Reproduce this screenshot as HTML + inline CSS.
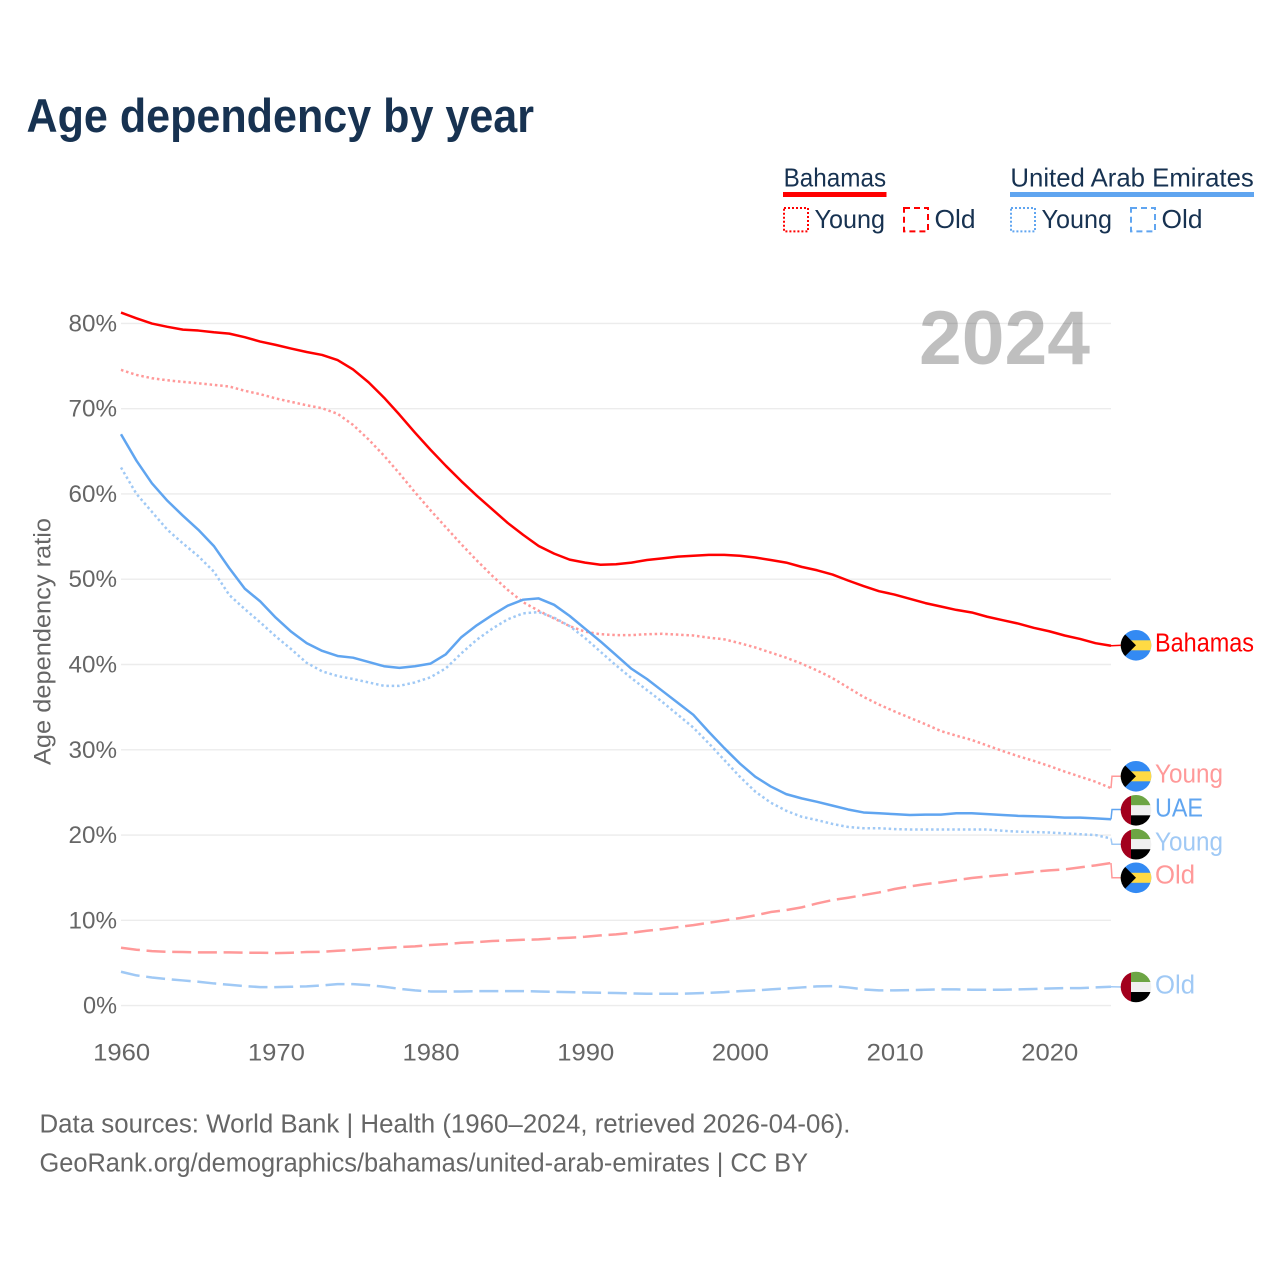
<!DOCTYPE html>
<html lang="en">
<head>
<meta charset="utf-8">
<title>Age dependency by year</title>
<style>
html,body{margin:0;padding:0;background:#fff;}
svg{display:block;font-family:"Liberation Sans",sans-serif;}
</style>
</head>
<body>
<svg id="chart" xmlns="http://www.w3.org/2000/svg" width="1280" height="1280" viewBox="0 0 1280 1280">
  <defs>
    <clipPath id="flag-clip"><circle cx="0" cy="0" r="15.3"/></clipPath>
  </defs>
  <rect width="1280" height="1280" fill="#fff"/>
  <text x="26.5" y="132" font-size="47" font-weight="700" fill="#173251" textLength="507.5" lengthAdjust="spacingAndGlyphs">Age dependency by year</text>

  <g>
    <text x="783.6" y="186.3" font-size="26" fill="#173251" textLength="102.5" lengthAdjust="spacingAndGlyphs">Bahamas</text>
    <rect x="783" y="192" width="103.5" height="5" fill="#ff0000"/>
    <rect x="784" y="208" width="24" height="23.4" fill="none" stroke="#ff0000" stroke-width="2" stroke-dasharray="2 2"/>
    <text x="814.5" y="228.2" font-size="26" fill="#173251" textLength="70.5" lengthAdjust="spacingAndGlyphs">Young</text>
    <rect x="904" y="208" width="24" height="23.4" fill="none" stroke="#ff0000" stroke-width="2" stroke-dasharray="6 4"/>
    <text x="934.5" y="228.2" font-size="26" fill="#173251" textLength="41" lengthAdjust="spacingAndGlyphs">Old</text>
  </g>
  <g>
    <text x="1010.4" y="186.3" font-size="26" fill="#173251" textLength="243.4" lengthAdjust="spacingAndGlyphs">United Arab Emirates</text>
    <rect x="1010" y="192" width="244" height="5" fill="#60a5f0"/>
    <rect x="1011" y="208" width="24" height="23.4" fill="none" stroke="#60a5f0" stroke-width="2" stroke-dasharray="2 2"/>
    <text x="1041.5" y="228.2" font-size="26" fill="#173251" textLength="70.5" lengthAdjust="spacingAndGlyphs">Young</text>
    <rect x="1131" y="208" width="24" height="23.4" fill="none" stroke="#60a5f0" stroke-width="2" stroke-dasharray="6 4"/>
    <text x="1161.5" y="228.2" font-size="26" fill="#173251" textLength="41" lengthAdjust="spacingAndGlyphs">Old</text>
  </g>

  <g id="grid"></g>
  <g id="y-ticks"></g>
  <g id="x-ticks"></g>
  <text transform="translate(50.5,765) rotate(-90)" font-size="24" fill="#666666" textLength="247" lengthAdjust="spacingAndGlyphs">Age dependency ratio</text>
  <text x="919" y="364" font-size="76" font-weight="700" fill="#000" fill-opacity="0.25" textLength="171" lengthAdjust="spacingAndGlyphs">2024</text>

  <g id="series"></g>
  <g id="connectors"></g>

  <g transform="translate(1136,645.3)" clip-path="url(#flag-clip)">
    <rect x="-16" y="-16" width="32" height="32" fill="#338af3"/><rect x="-16" y="-5" width="32" height="10" fill="#ffda44"/><path d="M-16-16L0 0L-16 16Z" fill="#000"/>
  </g>
  <g transform="translate(1136,776.3)" clip-path="url(#flag-clip)">
    <rect x="-16" y="-16" width="32" height="32" fill="#338af3"/><rect x="-16" y="-5" width="32" height="10" fill="#ffda44"/><path d="M-16-16L0 0L-16 16Z" fill="#000"/>
  </g>
  <g transform="translate(1136,810.3)" clip-path="url(#flag-clip)">
    <rect x="-5" y="-16" width="21" height="11" fill="#6da544"/><rect x="-5" y="-5" width="21" height="10" fill="#f0f0f0"/><rect x="-5" y="5" width="21" height="11" fill="#000"/><rect x="-16" y="-16" width="11" height="32" fill="#a2001d"/>
  </g>
  <g transform="translate(1136,844.2)" clip-path="url(#flag-clip)">
    <rect x="-5" y="-16" width="21" height="11" fill="#6da544"/><rect x="-5" y="-5" width="21" height="10" fill="#f0f0f0"/><rect x="-5" y="5" width="21" height="11" fill="#000"/><rect x="-16" y="-16" width="11" height="32" fill="#a2001d"/>
  </g>
  <g transform="translate(1136,877.8)" clip-path="url(#flag-clip)">
    <rect x="-16" y="-16" width="32" height="32" fill="#338af3"/><rect x="-16" y="-5" width="32" height="10" fill="#ffda44"/><path d="M-16-16L0 0L-16 16Z" fill="#000"/>
  </g>
  <g transform="translate(1136,987)" clip-path="url(#flag-clip)">
    <rect x="-5" y="-16" width="21" height="11" fill="#6da544"/><rect x="-5" y="-5" width="21" height="10" fill="#f0f0f0"/><rect x="-5" y="5" width="21" height="11" fill="#000"/><rect x="-16" y="-16" width="11" height="32" fill="#a2001d"/>
  </g>

  <text x="1155" y="651.5" font-size="25.5" fill="#ff0000" textLength="99" lengthAdjust="spacingAndGlyphs">Bahamas</text>
  <text x="1155" y="782.5" font-size="25.5" fill="#ff9999" textLength="68" lengthAdjust="spacingAndGlyphs">Young</text>
  <text x="1155" y="816.3" font-size="25.5" fill="#60a5f0" textLength="48" lengthAdjust="spacingAndGlyphs">UAE</text>
  <text x="1155" y="850.3" font-size="25.5" fill="#a0c9f5" textLength="68" lengthAdjust="spacingAndGlyphs">Young</text>
  <text x="1155" y="883.3" font-size="25.5" fill="#ff9999" textLength="40" lengthAdjust="spacingAndGlyphs">Old</text>
  <text x="1155" y="993.3" font-size="25.5" fill="#a0c9f5" textLength="40" lengthAdjust="spacingAndGlyphs">Old</text>

  <text x="39.5" y="1132.7" font-size="25.5" fill="#666666" textLength="811" lengthAdjust="spacingAndGlyphs">Data sources: World Bank | Health (1960–2024, retrieved 2026-04-06).</text>
  <text x="39.5" y="1171.5" font-size="25.5" fill="#666666" textLength="768.5" lengthAdjust="spacingAndGlyphs">GeoRank.org/demographics/bahamas/united-arab-emirates | CC BY</text>
</svg>
<script>
const startYear = 1960;
const endYear = 2024;
const yTickValues = [0, 10, 20, 30, 40, 50, 60, 70, 80];
const xTickValues = [1960, 1970, 1980, 1990, 2000, 2010, 2020];

const bahamasTotal = [81.27,80.6,79.98,79.6,79.27,79.16,78.96,78.8,78.38,77.87,77.48,77.05,76.65,76.3,75.7,74.6,73.1,71.3,69.3,67.2,65.2,63.3,61.5,59.8,58.2,56.6,55.2,53.9,53.0,52.3,51.95,51.7,51.75,51.95,52.25,52.45,52.65,52.75,52.85,52.85,52.75,52.55,52.25,51.95,51.45,51.05,50.55,49.85,49.2,48.6,48.2,47.7,47.2,46.8,46.4,46.1,45.6,45.2,44.8,44.3,43.9,43.4,43.0,42.5,42.2];
const bahamasYoung = [74.55,73.96,73.57,73.33,73.14,72.98,72.79,72.6,72.1,71.7,71.2,70.8,70.4,70.05,69.4,68.1,66.4,64.5,62.4,60.2,58.1,56.1,54.1,52.2,50.4,48.75,47.3,46.3,45.4,44.5,43.85,43.55,43.45,43.45,43.55,43.6,43.5,43.4,43.15,42.95,42.5,42.0,41.4,40.8,40.1,39.3,38.4,37.3,36.2,35.3,34.5,33.75,33.0,32.2,31.65,31.15,30.5,29.85,29.25,28.7,28.1,27.45,26.85,26.25,25.5];
const bahamasOld = [6.78,6.55,6.39,6.31,6.28,6.24,6.24,6.24,6.2,6.2,6.16,6.2,6.28,6.31,6.43,6.51,6.63,6.75,6.86,6.94,7.1,7.21,7.37,7.45,7.57,7.64,7.72,7.76,7.88,7.96,8.07,8.23,8.35,8.54,8.78,8.97,9.21,9.44,9.72,9.99,10.26,10.58,10.97,11.2,11.52,11.98,12.38,12.65,12.96,13.27,13.67,13.98,14.25,14.45,14.72,14.96,15.15,15.31,15.5,15.7,15.86,15.97,16.21,16.44,16.72];
const uaeTotal = [67.0,63.9,61.25,59.2,57.45,55.8,53.9,51.3,48.9,47.4,45.5,43.85,42.5,41.6,41.0,40.8,40.3,39.8,39.6,39.8,40.1,41.2,43.2,44.6,45.8,46.9,47.6,47.75,47.0,45.7,44.2,42.7,41.1,39.5,38.3,36.9,35.5,34.1,32.1,30.2,28.4,26.85,25.7,24.8,24.3,23.9,23.45,23.0,22.65,22.55,22.45,22.35,22.4,22.4,22.55,22.55,22.45,22.35,22.25,22.2,22.15,22.05,22.05,21.95,21.85];
const uaeYoung = [63.1,60.0,57.9,55.8,54.2,52.7,50.9,48.15,46.5,44.95,43.3,41.8,40.2,39.2,38.65,38.3,37.9,37.5,37.5,37.9,38.5,39.55,41.3,42.9,44.2,45.3,46.0,46.15,45.5,44.5,43.1,41.5,39.9,38.4,37.0,35.6,34.1,32.6,30.75,28.8,26.85,25.1,23.8,22.85,22.15,21.75,21.3,20.95,20.8,20.8,20.7,20.65,20.65,20.65,20.65,20.65,20.65,20.5,20.4,20.35,20.3,20.2,20.1,20.0,19.6];
const uaeOld = [3.97,3.54,3.3,3.11,2.95,2.8,2.6,2.44,2.29,2.17,2.17,2.21,2.25,2.36,2.52,2.52,2.4,2.21,1.97,1.78,1.66,1.66,1.66,1.7,1.7,1.7,1.7,1.66,1.62,1.58,1.54,1.5,1.47,1.43,1.39,1.39,1.39,1.43,1.5,1.58,1.7,1.78,1.9,2.01,2.13,2.25,2.29,2.13,1.9,1.78,1.78,1.82,1.86,1.9,1.9,1.86,1.86,1.86,1.9,1.94,2.01,2.05,2.05,2.13,2.21];

const NS = 'http://www.w3.org/2000/svg';
function xScale(year) { return 121 + (year - startYear) * (1111 - 121) / (endYear - startYear); }
function yScale(value) { return 1005.6 - value * 8.5275; }

const gridGroup = document.getElementById('grid');
const yTickGroup = document.getElementById('y-ticks');
const xTickGroup = document.getElementById('x-ticks');
const seriesGroup = document.getElementById('series');
const connectorGroup = document.getElementById('connectors');

yTickValues.forEach(function (tick) {
  const line = document.createElementNS(NS, 'line');
  
  
  line.setAttribute('x1', xScale(startYear));
  line.setAttribute('x2', xScale(endYear));
  line.setAttribute('y1', yScale(tick));
  line.setAttribute('y2', yScale(tick));
  line.setAttribute('stroke', '#ececec');
  line.setAttribute('stroke-width', '1.4');
  gridGroup.appendChild(line);

  const label = document.createElementNS(NS, 'text');
  
  
  label.setAttribute('x', 117);
  label.setAttribute('y', yScale(tick) + 8.0);
  label.setAttribute('text-anchor', 'end');
  label.setAttribute('font-size', '24');
  label.setAttribute('fill', '#666666');
  label.setAttribute('textLength', tick === 0 ? 34 : 48.5);
  label.setAttribute('lengthAdjust', 'spacingAndGlyphs');
  label.textContent = tick + '%';
  yTickGroup.appendChild(label);
});

xTickValues.forEach(function (tick) {
  const label = document.createElementNS(NS, 'text');
  
  
  label.setAttribute('x', xScale(tick) - 28.5 + 0.7);
  label.setAttribute('y', 1060.7);
  label.setAttribute('font-size', '24');
  label.setAttribute('fill', '#666666');
  label.setAttribute('textLength', 57);
  label.setAttribute('lengthAdjust', 'spacingAndGlyphs');
  label.textContent = tick;
  xTickGroup.appendChild(label);
});

function drawSeries(values, name, color, dash) {
  const path = document.createElementNS(NS, 'path');
  
  
  let d = '';
  values.forEach(function (value, i) {
    d += (i ? 'L' : 'M') + xScale(startYear + i).toFixed(2) + ' ' + yScale(value).toFixed(2);
  });
  path.setAttribute('d', d);
  path.setAttribute('fill', 'none');
  path.setAttribute('stroke', color);
  path.setAttribute('stroke-width', '2.5');
  path.setAttribute('stroke-linejoin', 'round');
  if (dash) path.setAttribute('stroke-dasharray', dash);
  seriesGroup.appendChild(path);
}

function drawConnector(values, name, color, flagY, stepped) {
  const path = document.createElementNS(NS, 'path');
  
  
  const endY = yScale(values[values.length - 1]);
  const startX = xScale(endYear);
  const d = stepped
    ? 'M' + startX + ' ' + endY + 'L' + (startX + 1) + ' ' + flagY + 'L1122 ' + flagY
    : 'M' + startX + ' ' + endY + 'L1122 ' + flagY;
  path.setAttribute('d', d);
  path.setAttribute('fill', 'none');
  path.setAttribute('stroke', color);
  path.setAttribute('stroke-width', '1.5');
  connectorGroup.appendChild(path);
}

drawSeries(bahamasYoung, 'line-bahamas-young', '#ff9999', '2.5 2.8');
drawSeries(bahamasOld, 'line-bahamas-old', '#ff9999', '19 6.7');
drawSeries(uaeYoung, 'line-uae-young', '#a0c9f5', '2.5 2.8');
drawSeries(uaeOld, 'line-uae-old', '#a0c9f5', '19 6.7');
drawSeries(uaeTotal, 'line-uae-total', '#60a5f0', '');
drawSeries(bahamasTotal, 'line-bahamas-total', '#ff0000', '');

drawConnector(bahamasTotal, 'connector-bahamas-total', '#ff0000', 645.3, false);
drawConnector(bahamasYoung, 'connector-bahamas-young', '#ff9999', 776.3, true);
drawConnector(uaeTotal, 'connector-uae-total', '#60a5f0', 809.5, true);
drawConnector(uaeYoung, 'connector-uae-young', '#a0c9f5', 844.2, true);
drawConnector(bahamasOld, 'connector-bahamas-old', '#ff9999', 877.8, true);
drawConnector(uaeOld, 'connector-uae-old', '#a0c9f5', 987, false);
</script>
</body>
</html>
